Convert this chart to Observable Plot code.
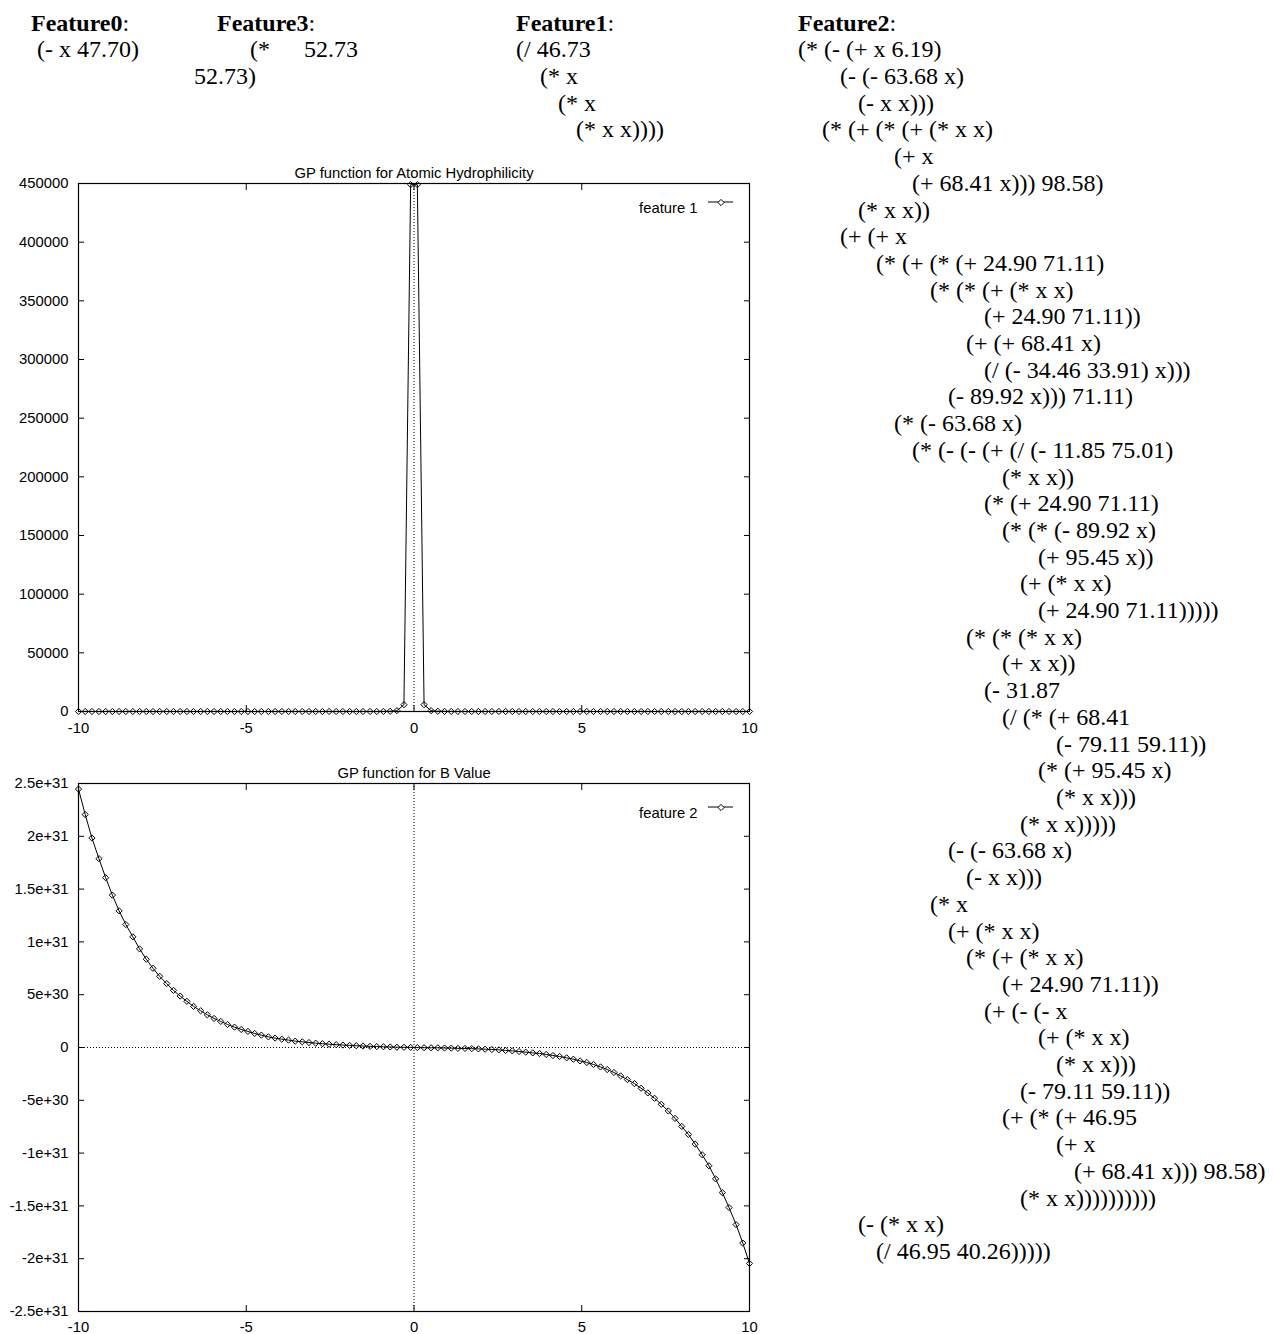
<!DOCTYPE html>
<html>
<head>
<meta charset="utf-8">
<script src="https://cdn.jsdelivr.net/npm/d3@7"></script>
<script src="https://cdn.jsdelivr.net/npm/@observablehq/plot@0.6"></script>
<style>
  body { margin: 0; background: #fff; }
  #page { position: relative; width: 1273px; height: 1334px; overflow: hidden; background: #fff; }
  .expr { position: absolute; font-family: "Liberation Serif", "Times New Roman", Times, serif; font-size: 24px;
          line-height: 26.7px; white-space: pre; color: #000; }
  .expr b { font-weight: bold; }
  .chart { position: absolute; left: 0; }
</style>
</head>
<body>
<div id="page"></div>
<script>
// ---------------- data ----------------
const xValues = [
  -10.00, -9.80, -9.60, -9.39, -9.19, -8.99, -8.79, -8.59, -8.38, -8.18,
  -7.98, -7.78, -7.58, -7.37, -7.17, -6.97, -6.77, -6.57, -6.36, -6.16,
  -5.96, -5.76, -5.56, -5.35, -5.15, -4.95, -4.75, -4.55, -4.34, -4.14,
  -3.94, -3.74, -3.54, -3.33, -3.13, -2.93, -2.73, -2.53, -2.32, -2.12,
  -1.92, -1.72, -1.52, -1.31, -1.11, -0.91, -0.71, -0.51, -0.30, -0.10,
  0.10, 0.30, 0.51, 0.71, 0.91, 1.11, 1.31, 1.52, 1.72, 1.92,
  2.12, 2.32, 2.53, 2.73, 2.93, 3.13, 3.33, 3.54, 3.74, 3.94,
  4.14, 4.34, 4.55, 4.75, 4.95, 5.15, 5.35, 5.56, 5.76, 5.96,
  6.16, 6.36, 6.57, 6.77, 6.97, 7.17, 7.37, 7.58, 7.78, 7.98,
  8.18, 8.38, 8.59, 8.79, 8.99, 9.19, 9.39, 9.60, 9.80, 10.00
];

// GP function for Atomic Hydrophilicity (feature 1)
const hydroValues = [
  0, 0, 0, 0, 0, 0, 0, 0, 0, 0,
  0, 0, 0, 0, 0, 0, 0, 0, 0, 0,
  0, 0, 0, 0, 0, 0, 0, 0, 0, 0,
  0, 0, 0, 0, 0, 1, 1, 1, 2, 2,
  3, 5, 9, 16, 30, 70, 180, 700, 5800, 449000,
  449000, 5800, 700, 180, 70, 30, 16, 9, 5, 3,
  2, 2, 1, 1, 1, 0, 0, 0, 0, 0,
  0, 0, 0, 0, 0, 0, 0, 0, 0, 0,
  0, 0, 0, 0, 0, 0, 0, 0, 0, 0,
  0, 0, 0, 0, 0, 0, 0, 0, 0, 0
];

// GP function for B Value (feature 2)
const bValues = [
  24.47e30, 22.06e30, 19.84e30, 17.88e30, 16.08e30, 14.43e30, 12.94e30, 11.65e30, 10.48e30, 9.34e30,
  8.36e30, 7.50e30, 6.74e30, 6.05e30, 5.41e30, 4.87e30, 4.37e30, 3.89e30, 3.48e30, 3.10e30,
  2.75e30, 2.47e30, 2.18e30, 1.93e30, 1.71e30, 1.52e30, 1.33e30, 1.17e30, 1.01e30, 0.89e30,
  0.79e30, 0.70e30, 0.60e30, 0.54e30, 0.47e30, 0.41e30, 0.36e30, 0.31e30, 0.27e30, 0.23e30,
  0.20e30, 0.17e30, 0.14e30, 0.11e30, 0.09e30, 0.07e30, 0.05e30, 0.03e30, 0.02e30, 0.01e30,
  -0.01e30, -0.02e30, -0.03e30, -0.03e30, -0.05e30, -0.06e30, -0.08e30, -0.09e30, -0.11e30, -0.13e30,
  -0.16e30, -0.19e30, -0.22e30, -0.28e30, -0.32e30, -0.38e30, -0.44e30, -0.51e30, -0.57e30, -0.66e30,
  -0.76e30, -0.85e30, -0.98e30, -1.11e30, -1.27e30, -1.42e30, -1.61e30, -1.84e30, -2.09e30, -2.37e30,
  -2.69e30, -3.04e30, -3.42e30, -3.86e30, -4.30e30, -4.81e30, -5.38e30, -6.01e30, -6.71e30, -7.47e30,
  -8.23e30, -9.15e30, -10.16e30, -11.20e30, -12.44e30, -13.74e30, -15.16e30, -16.77e30, -18.52e30, -20.45e30
];

const xTicks = [-10, -5, 0, 5, 10];
const hydroYTicks = [0, 50000, 100000, 150000, 200000, 250000, 300000, 350000, 400000, 450000];
const bYTicks = [-2.5e31, -2e31, -1.5e31, -1e31, -5e30, 0, 5e30, 1e31, 1.5e31, 2e31, 2.5e31];

const titles = ["GP function for Atomic Hydrophilicity", "GP function for B Value"];
const seriesNames = ["feature 1", "feature 2"];

// GP expressions (text), indentation in leading spaces
const feature0Expr = [[1, "(- x 47.70)"]];
const feature1Expr = [[0, "(/ 46.73"], [4, "(* x"], [7, "(* x"], [10, "(* x x))))"]];
const feature2Expr = [
  [0, "(* (- (+ x 6.19)"],
  [7, "(- (- 63.68 x)"],
  [10, "(- x x)))"],
  [4, "(* (+ (* (+ (* x x)"],
  [16, "(+ x"],
  [19, "(+ 68.41 x))) 98.58)"],
  [10, "(* x x))"],
  [7, "(+ (+ x"],
  [13, "(* (+ (* (+ 24.90 71.11)"],
  [22, "(* (* (+ (* x x)"],
  [31, "(+ 24.90 71.11))"],
  [28, "(+ (+ 68.41 x)"],
  [31, "(/ (- 34.46 33.91) x)))"],
  [25, "(- 89.92 x))) 71.11)"],
  [16, "(* (- 63.68 x)"],
  [19, "(* (- (- (+ (/ (- 11.85 75.01)"],
  [34, "(* x x))"],
  [31, "(* (+ 24.90 71.11)"],
  [34, "(* (* (- 89.92 x)"],
  [40, "(+ 95.45 x))"],
  [37, "(+ (* x x)"],
  [40, "(+ 24.90 71.11)))))"],
  [28, "(* (* (* x x)"],
  [34, "(+ x x))"],
  [31, "(- 31.87"],
  [34, "(/ (* (+ 68.41"],
  [43, "(- 79.11 59.11))"],
  [40, "(* (+ 95.45 x)"],
  [43, "(* x x)))"],
  [37, "(* x x)))))"],
  [25, "(- (- 63.68 x)"],
  [28, "(- x x)))"],
  [22, "(* x"],
  [25, "(+ (* x x)"],
  [28, "(* (+ (* x x)"],
  [34, "(+ 24.90 71.11))"],
  [31, "(+ (- (- x"],
  [40, "(+ (* x x)"],
  [43, "(* x x)))"],
  [37, "(- 79.11 59.11))"],
  [34, "(+ (* (+ 46.95"],
  [43, "(+ x"],
  [46, "(+ 68.41 x))) 98.58)"],
  [37, "(* x x))))))))))"],
  [10, "(- (* x x)"],
  [13, "(/ 46.95 40.26)))))"]
];

// ---------------- text blocks ----------------
const page = document.getElementById("page");

function addBlock(left, top, label, lines) {
  const div = document.createElement("div");
  div.className = "expr";
  div.style.left = left + "px";
  div.style.top = top + "px";
  if (label) {
    const b = document.createElement("b");
    b.textContent = label;
    div.appendChild(b);
    div.appendChild(document.createTextNode(":" + (lines.length ? "\n" : "")));
  }
  div.appendChild(document.createTextNode(lines.map(([n, t]) => " ".repeat(n) + t).join("\n")));
  page.appendChild(div);
}
function addText(left, top, text, bold) {
  const div = document.createElement("div");
  div.className = "expr";
  div.style.left = left + "px";
  div.style.top = top + "px";
  if (bold) {
    const b = document.createElement("b");
    b.textContent = text;
    div.appendChild(b);
    div.appendChild(document.createTextNode(":"));
  } else div.textContent = text;
  page.appendChild(div);
}

const textTop = 9.6;
addBlock(31, textTop, "Feature0", feature0Expr);
addText(217, textTop, "Feature3", true);
addText(250, textTop + 26.7, "(*");
addText(304, textTop + 26.7, "52.73");
addText(194, textTop + 53.4, "52.73)");
addBlock(516, textTop, "Feature1", feature1Expr);
addBlock(798, textTop, "Feature2", feature2Expr);

// ---------------- charts ----------------
const FONT = "'Liberation Sans', Arial, Helvetica, sans-serif";
const FS = 14.8;

function legendLine(offTop) {
  return (index, scales, values, dims) => {
    const g = d3.create("svg:g");
    const right = dims.width - dims.marginRight;
    const y = dims.marginTop + offTop;
    g.append("line").attr("x1", right - 41).attr("x2", right - 16)
      .attr("y1", y).attr("y2", y).attr("stroke", "black").attr("stroke-width", 1);
    return g.node();
  };
}

function gnuChart({values, title, name, yTicks, yFormat, top, height, marginTop, marginBottom, xPad, legendTop, zeroY}) {
  const data = xValues.map((x, i) => ({x, y: values[i]}));
  const width = 770;
  const noLabel = {label: null};
  const plot = Plot.plot({
    width, height,
    marginLeft: 78, marginRight: width - 749, marginTop, marginBottom,
    style: {fontFamily: FONT, fontSize: FS + "px", color: "black", background: "white", overflow: "visible"},
    x: {domain: [xTicks[0], xTicks[xTicks.length - 1]], label: null},
    y: {domain: [yTicks[0], yTicks[yTicks.length - 1]], label: null},
    marks: [
      Plot.ruleX([0], {stroke: "black", strokeWidth: 1, strokeDasharray: "1,2"}),
      zeroY ? Plot.ruleY([0], {stroke: "black", strokeWidth: 1, strokeDasharray: "1,2"}) : null,
      // inward ticks on all four sides
      Plot.axisX(xTicks, {...noLabel, anchor: "bottom", tickSize: 6, dy: -6, tickFormat: () => "", strokeWidth: 1}),
      Plot.axisX(xTicks, {...noLabel, anchor: "top", tickSize: 6, dy: 6, tickFormat: () => "", strokeWidth: 1}),
      Plot.axisY(yTicks, {...noLabel, anchor: "left", tickSize: 6, dx: 6, tickFormat: () => "", strokeWidth: 1}),
      Plot.axisY(yTicks, {...noLabel, anchor: "right", tickSize: 6, dx: -6, tickFormat: () => "", strokeWidth: 1}),
      // labels
      Plot.axisX(xTicks, {...noLabel, anchor: "bottom", tickSize: 0, tickPadding: xPad, tickFormat: d => String(d), fontSize: FS}),
      Plot.axisY(yTicks, {...noLabel, anchor: "left", tickSize: 0, tickPadding: 10, tickFormat: yFormat, fontSize: FS}),
      Plot.frame({stroke: "black", strokeWidth: 1.2}),
      Plot.line(data, {x: "x", y: "y", stroke: "black", strokeWidth: 1}),
      Plot.dot(data, {x: "x", y: "y", symbol: "diamond2", r: 2.8, stroke: "black", fill: "none", strokeWidth: 1}),
      Plot.text([title], {frameAnchor: "top", dy: -16, fontSize: FS, fill: "black"}),
      Plot.text([name], {frameAnchor: "top-right", dx: -52, dy: legendTop, textAnchor: "end", fontSize: FS, fill: "black"}),
      legendLine(legendTop),
      Plot.dot([0], {frameAnchor: "top-right", dx: -28.5, dy: legendTop, symbol: "diamond2", r: 2.8, stroke: "black", fill: "white", strokeWidth: 1})
    ]
  });
  plot.classList.add("chart");
  plot.style.top = top + "px";
  page.appendChild(plot);
}

gnuChart({
  values: hydroValues, title: titles[0], name: seriesNames[0],
  yTicks: hydroYTicks, yFormat: d => String(d),
  top: 150, height: 595, marginTop: 33, marginBottom: 34, xPad: 11, legendTop: 19, zeroY: false
});

gnuChart({
  values: bValues, title: titles[1], name: seriesNames[1],
  yTicks: bYTicks, yFormat: d => d === 0 ? "0" : d.toExponential(),
  top: 750, height: 584, marginTop: 33, marginBottom: 23, xPad: 10, legendTop: 24, zeroY: true
});
</script>
</body>
</html>
